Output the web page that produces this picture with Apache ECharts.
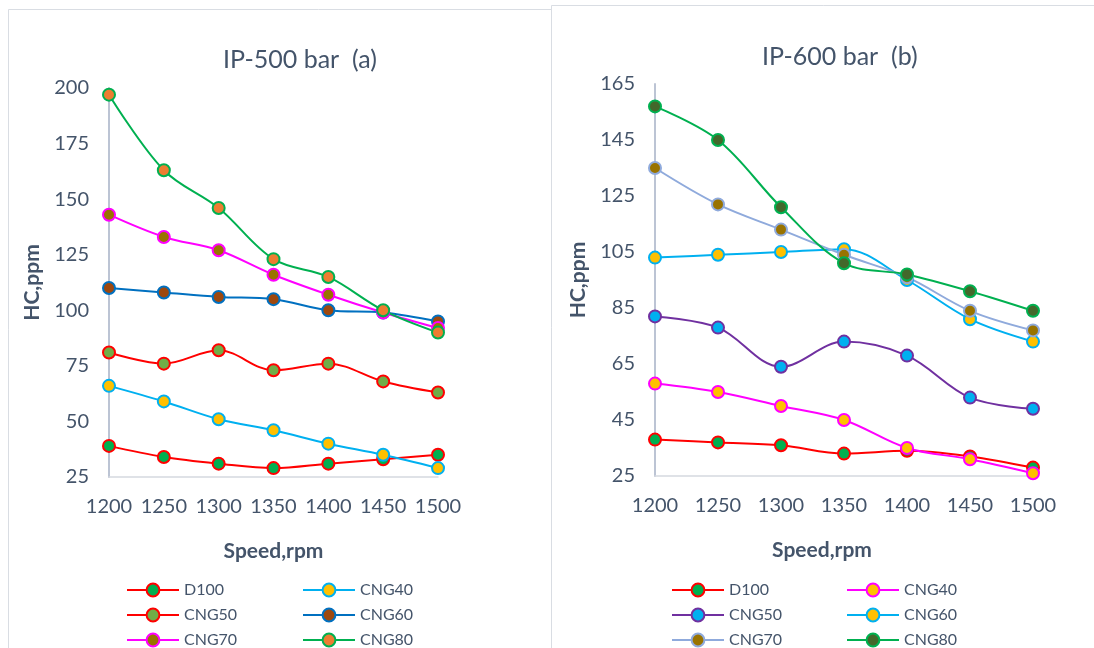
<!DOCTYPE html>
<html>
<head>
<meta charset="utf-8">
<title>HC emissions vs engine speed</title>
<script src="https://cdn.jsdelivr.net/npm/echarts@6/dist/echarts.min.js"></script>
<style>
  html, body { margin: 0; padding: 0; background: #ffffff; }
  #chart { width: 1094px; height: 648px; }
</style>
</head>
<body>
<div id="chart"></div>
<script>
// Engine speed categories (rpm)
const speeds = ['1200', '1250', '1300', '1350', '1400', '1450', '1500'];

// HC (ppm) at injection pressure 500 bar
const a_D100  = [39, 34, 31, 29, 31, 33, 35];
const a_CNG40 = [66, 59, 51, 46, 40, 35, 29];
const a_CNG50 = [81, 76, 82, 73, 76, 68, 63];
const a_CNG60 = [110, 108, 106, 105, 100, 99, 95];
const a_CNG70 = [143, 133, 127, 116, 107, 99, 92];
const a_CNG80 = [197, 163, 146, 123, 115, 100, 90];

// HC (ppm) at injection pressure 600 bar
const b_D100  = [38, 37, 36, 33, 34, 32, 28];
const b_CNG40 = [58, 55, 50, 45, 35, 31, 26];
const b_CNG50 = [82, 78, 64, 73, 68, 53, 49];
const b_CNG60 = [103, 104, 105, 106, 95, 81, 73];
const b_CNG70 = [135, 122, 113, 104, 96, 84, 77];
const b_CNG80 = [157, 145, 121, 101, 97, 91, 84];

// Y tick labels
const ticksA = [25, 50, 75, 100, 125, 150, 175, 200];
const ticksB = [25, 45, 65, 85, 105, 125, 145, 165];

const FONT = 'Lato, "Open Sans", sans-serif';
const TXT = '#44546a';

// [name, data, line colour, marker fill]
const seriesA = [
  ['D100',  a_D100,  '#ff0000', '#00b050'],
  ['CNG40', a_CNG40, '#00b0f0', '#ffc000'],
  ['CNG50', a_CNG50, '#ff0000', '#70ad47'],
  ['CNG60', a_CNG60, '#0070c0', '#9e480e'],
  ['CNG70', a_CNG70, '#ff00ff', '#997300'],
  ['CNG80', a_CNG80, '#00b050', '#ed7d31']
];
const seriesB = [
  ['D100',  b_D100,  '#ff0000', '#00b050'],
  ['CNG40', b_CNG40, '#ff00ff', '#ffc000'],
  ['CNG50', b_CNG50, '#7030a0', '#00b0f0'],
  ['CNG60', b_CNG60, '#00b0f0', '#ffc000'],
  ['CNG70', b_CNG70, '#8faadc', '#997300'],
  ['CNG80', b_CNG80, '#00b050', '#43682b']
];

function makeSeries(defs, idx, prefix) {
  return defs.map(([name, data, line, fill]) => ({
    id: prefix + name,
    name: name,
    type: 'line',
    xAxisIndex: idx,
    yAxisIndex: idx,
    data: data,
    smooth: 0.35,
    symbol: 'circle',
    symbolSize: 12,
    lineStyle: { color: line, width: 2 },
    itemStyle: { color: fill, borderColor: line, borderWidth: 2 },
    emphasis: { disabled: true },
    animation: false
  }));
}

function legendItems(defs, names) {
  return names.map(n => {
    const d = defs.find(s => s[0] === n);
    return {
      name: n,
      lineStyle: { color: d[2], width: 2 },
      itemStyle: { color: d[3], borderColor: d[2], borderWidth: 2 }
    };
  });
}

function makeLegend(defs, names, left) {
  return {
    orient: 'vertical',
    left: left,
    top: 582,
    height: 120,
    itemWidth: 52,
    itemHeight: 16,
    itemGap: 9,
    selectedMode: false,
    padding: 0,
    textStyle: { fontFamily: FONT, fontSize: 16, color: TXT },
    data: legendItems(defs, names)
  };
}

function xAxisCfg(idx, namePad) {
  return {
    type: 'category',
    gridIndex: idx,
    data: speeds,
    boundaryGap: false,
    axisLine: { show: true, lineStyle: { color: '#d5d9e0', width: 1.5 } },
    axisTick: { show: false },
    axisLabel: { fontFamily: FONT, fontSize: 20, color: TXT, margin: 20, interval: 0, hideOverlap: false },
    name: 'Speed,rpm',
    nameLocation: 'middle',
    nameGap: 64,
    nameTextStyle: { fontFamily: FONT, fontSize: 21, fontWeight: 'bold', color: TXT, padding: namePad }
  };
}

function yAxisCfg(idx, min, max, ticks) {
  return {
    type: 'value',
    gridIndex: idx,
    min: min,
    max: max,
    splitLine: { show: false },
    axisLine: { show: true, lineStyle: { color: '#bcc4d4', width: 2 } },
    axisTick: { show: false },
    axisLabel: { fontFamily: FONT, fontSize: 20, color: TXT, margin: 20, customValues: ticks },
    name: 'HC,ppm',
    nameLocation: 'middle',
    nameGap: 66,
    nameTextStyle: { fontFamily: FONT, fontSize: 21, fontWeight: 'bold', color: TXT }
  };
}

const chart = echarts.init(document.getElementById('chart'), null, { renderer: 'canvas' });

chart.setOption({
  backgroundColor: '#ffffff',
  animation: false,
  graphic: [
    { type: 'rect', z: -10, silent: true,
      shape: { x: 8.5, y: 9.5, width: 620, height: 700 },
      style: { fill: '#ffffff', stroke: '#d9dde3', lineWidth: 1 } },
    { type: 'rect', z: -9, silent: true,
      shape: { x: 551.5, y: 5.5, width: 620, height: 700 },
      style: { fill: '#ffffff', stroke: '#d9dde3', lineWidth: 1 } }
  ],
  title: [
    { text: 'IP-500 bar  (a)', left: 223, top: 47, padding: 0,
      textStyle: { fontFamily: FONT, fontSize: 25, fontWeight: 'normal', color: TXT } },
    { text: 'IP-600 bar  (b)', left: 762, top: 44, padding: 0,
      textStyle: { fontFamily: FONT, fontSize: 25, fontWeight: 'normal', color: TXT } }
  ],
  grid: [
    { left: 109, top: 88, width: 329, height: 389 },
    { left: 655, top: 84, width: 378, height: 392 }
  ],
  xAxis: [xAxisCfg(0, [0, 0, 0, 0]), xAxisCfg(1, [0, 44, 0, 0])],
  yAxis: [yAxisCfg(0, 25, 200, ticksA), yAxisCfg(1, 25, 165, ticksB)],
  legend: [
    makeLegend(seriesA, ['D100', 'CNG50', 'CNG70'], 126),
    makeLegend(seriesA, ['CNG40', 'CNG60', 'CNG80'], 302),
    makeLegend(seriesB, ['D100', 'CNG50', 'CNG70'], 671),
    makeLegend(seriesB, ['CNG40', 'CNG60', 'CNG80'], 846)
  ],
  series: makeSeries(seriesA, 0, 'a_').concat(makeSeries(seriesB, 1, 'b_'))
});
</script>
</body>
</html>
